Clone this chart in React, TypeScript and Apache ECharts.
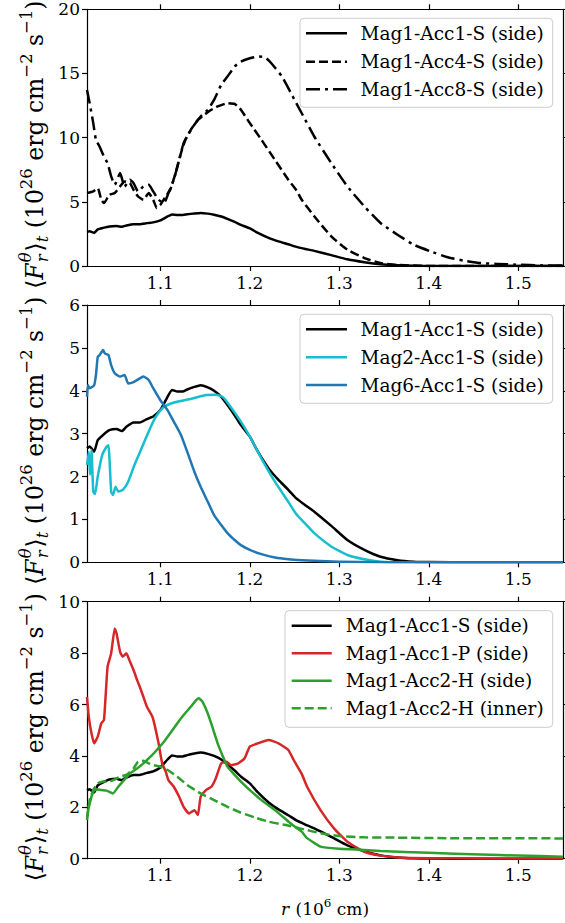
import React, { useEffect, useRef } from 'react';
import * as echarts from 'echarts';

const W = 565;
const H = 923;
const SERIF = 'DejaVu Serif';

// ---------- axes ----------
const X_MIN = 1.018;
const X_MAX = 1.55;
const X_TICKS = [1.1, 1.2, 1.3, 1.4, 1.5];
const Y_MAX = [20, 6, 10];
const Y_INTERVAL = [5, 1, 2];

// ---------- legend names ----------
const NAMES_1 = ['Mag1-Acc1-S (side)', 'Mag1-Acc4-S (side)', 'Mag1-Acc8-S (side)'];
const NAMES_2 = ['Mag1-Acc1-S (side)', 'Mag2-Acc1-S (side)', 'Mag6-Acc1-S (side)'];
const NAMES_3 = ['Mag1-Acc1-S (side)', 'Mag1-Acc1-P (side)', 'Mag1-Acc2-H (side)', 'Mag1-Acc2-H (inner)'];

// ---------- data: [r (1e6 cm), <F> (1e26 erg cm^-2 s^-1)] ----------
const MAG1_ACC1_S: number[][] = [
  [1.018, 2.66], [1.021, 2.7], [1.026, 2.58], [1.03, 2.85], [1.036, 2.97], [1.043, 3.08], [1.051, 3.11],
  [1.057, 3.06], [1.062, 3.16], [1.07, 3.26], [1.077, 3.26], [1.085, 3.34], [1.092, 3.4], [1.1, 3.55],
  [1.108, 3.86], [1.113, 4.02], [1.119, 3.98], [1.125, 3.98], [1.13, 4.03], [1.138, 4.09], [1.145, 4.13],
  [1.153, 4.08], [1.16, 4.0], [1.168, 3.86], [1.175, 3.67], [1.183, 3.43], [1.19, 3.2], [1.2, 2.93],
  [1.209, 2.58], [1.221, 2.19], [1.232, 1.92], [1.243, 1.69], [1.252, 1.49], [1.262, 1.33], [1.272, 1.18],
  [1.291, 0.85], [1.309, 0.52], [1.328, 0.29], [1.346, 0.13], [1.365, 0.05], [1.383, 0.015], [1.4, 0.005],
  [1.45, 0], [1.55, 0],
];
const MAG1_ACC4_S: number[][] = [
  [1.018, 5.68], [1.025, 5.81], [1.03, 6.07], [1.034, 5.16], [1.037, 4.9], [1.043, 5.55], [1.049, 5.68],
  [1.055, 6.2], [1.06, 6.59], [1.066, 6.46], [1.07, 5.94], [1.075, 5.42], [1.081, 5.16], [1.087, 5.68],
  [1.092, 5.16], [1.096, 4.51], [1.1, 4.77], [1.106, 5.42], [1.111, 5.94], [1.117, 7.24], [1.123, 8.79],
  [1.128, 9.83], [1.134, 10.61], [1.142, 11.39], [1.149, 11.78], [1.157, 12.17], [1.164, 12.43],
  [1.175, 12.69], [1.183, 12.63], [1.19, 12.17], [1.2, 11.13], [1.213, 9.83], [1.228, 8.27], [1.243, 6.72],
  [1.252, 5.9], [1.258, 5.16], [1.272, 3.87], [1.291, 2.31], [1.309, 1.27], [1.328, 0.62], [1.346, 0.23],
  [1.365, 0.08], [1.4, 0.0], [1.55, 0],
];
const MAG1_ACC8_S: number[][] = [
  [1.018, 13.72], [1.021, 12.68], [1.025, 11.13], [1.028, 9.83], [1.032, 9.31], [1.037, 8.53], [1.041, 8.02],
  [1.045, 6.98], [1.049, 6.33], [1.055, 7.24], [1.06, 6.2], [1.066, 6.72], [1.07, 6.46], [1.075, 5.81],
  [1.081, 6.2], [1.087, 6.33], [1.092, 5.81], [1.098, 5.16], [1.104, 4.9], [1.109, 5.68], [1.115, 6.72],
  [1.121, 8.27], [1.126, 9.57], [1.132, 10.35], [1.138, 11.0], [1.145, 11.65], [1.153, 12.17], [1.16, 12.94],
  [1.168, 14.11], [1.175, 14.76], [1.183, 15.54], [1.19, 15.93], [1.2, 16.19], [1.209, 16.32], [1.217, 16.26],
  [1.224, 15.8], [1.236, 14.76], [1.247, 13.33], [1.258, 11.9], [1.272, 10.09], [1.291, 8.02], [1.309, 6.2],
  [1.328, 4.64], [1.346, 3.35], [1.365, 2.44], [1.383, 1.66], [1.402, 1.14], [1.42, 0.7], [1.439, 0.42],
  [1.458, 0.23], [1.476, 0.16], [1.5, 0.1], [1.525, 0.05], [1.55, 0.03],
];
const MAG2_ACC1_S: number[][] = [
  [1.018, 2.27], [1.02, 2.58], [1.0215, 2.04], [1.023, 2.62], [1.025, 1.65], [1.027, 1.59], [1.03, 2.0],
  [1.035, 2.5], [1.04, 2.7], [1.042, 2.73], [1.045, 1.65], [1.047, 1.57], [1.05, 1.76], [1.053, 1.65],
  [1.058, 1.69], [1.064, 1.88], [1.071, 2.27], [1.079, 2.66], [1.087, 3.05], [1.094, 3.36], [1.102, 3.59],
  [1.109, 3.68], [1.12, 3.75], [1.136, 3.82], [1.151, 3.9], [1.162, 3.91], [1.17, 3.85], [1.177, 3.67],
  [1.19, 3.28], [1.2, 2.93], [1.213, 2.42], [1.228, 1.88], [1.243, 1.41], [1.252, 1.12], [1.262, 0.9],
  [1.272, 0.68], [1.291, 0.37], [1.309, 0.17], [1.328, 0.07], [1.346, 0.015], [1.37, 0], [1.55, 0],
];
const MAG6_ACC1_S: number[][] = [
  [1.018, 3.86], [1.019, 4.13], [1.021, 4.06], [1.026, 4.13], [1.028, 4.37], [1.03, 4.79], [1.032, 4.83],
  [1.036, 4.95], [1.038, 4.87], [1.042, 4.83], [1.045, 4.6], [1.049, 4.41], [1.055, 4.33], [1.06, 4.37],
  [1.064, 4.17], [1.07, 4.2], [1.077, 4.29], [1.081, 4.33], [1.087, 4.25], [1.092, 4.06], [1.1, 3.78],
  [1.108, 3.55], [1.115, 3.28], [1.123, 2.97], [1.13, 2.58], [1.138, 2.11], [1.145, 1.76], [1.153, 1.41],
  [1.16, 1.1], [1.168, 0.87], [1.175, 0.68], [1.183, 0.52], [1.19, 0.4], [1.2, 0.29], [1.213, 0.19],
  [1.228, 0.11], [1.243, 0.07], [1.258, 0.05], [1.3, 0.015], [1.35, 0], [1.55, 0],
];
const MAG1_ACC1_P: number[][] = [
  [1.018, 6.3], [1.02, 5.52], [1.023, 4.88], [1.026, 4.49], [1.03, 4.75], [1.034, 5.27], [1.037, 5.4],
  [1.041, 7.47], [1.045, 7.99], [1.049, 8.96], [1.051, 8.77], [1.055, 8.05], [1.058, 7.86], [1.062, 7.99],
  [1.066, 7.67], [1.07, 7.34], [1.074, 6.95], [1.077, 6.69], [1.081, 6.3], [1.085, 5.91], [1.091, 5.53],
  [1.094, 5.14], [1.098, 4.49], [1.102, 3.71], [1.106, 3.39], [1.109, 3.06], [1.115, 2.8], [1.121, 2.41],
  [1.126, 2.02], [1.132, 1.76], [1.138, 1.89], [1.142, 1.7], [1.145, 2.41], [1.151, 2.67], [1.157, 2.8],
  [1.162, 3.13], [1.168, 3.71], [1.174, 3.77], [1.179, 3.64], [1.187, 3.71], [1.194, 3.9], [1.2, 4.36],
  [1.209, 4.49], [1.221, 4.62], [1.232, 4.49], [1.243, 4.23], [1.249, 3.84], [1.258, 3.3], [1.264, 2.8],
  [1.279, 1.89], [1.294, 1.18], [1.309, 0.66], [1.328, 0.27], [1.346, 0.12], [1.365, 0.05], [1.4, 0.02],
  [1.458, 0.01], [1.55, 0.01],
];
const MAG1_ACC2_H_SIDE: number[][] = [
  [1.018, 1.63], [1.021, 2.15], [1.025, 2.61], [1.028, 2.7], [1.034, 2.67], [1.04, 2.65], [1.047, 2.54],
  [1.053, 2.8], [1.058, 3.0], [1.066, 3.32], [1.074, 3.51], [1.081, 3.71], [1.089, 3.97], [1.096, 4.23],
  [1.104, 4.55], [1.111, 4.88], [1.119, 5.27], [1.126, 5.59], [1.134, 5.91], [1.14, 6.17], [1.143, 6.24],
  [1.147, 6.11], [1.153, 5.65], [1.158, 5.14], [1.164, 4.49], [1.17, 3.97], [1.175, 3.58], [1.183, 3.26],
  [1.19, 3.0], [1.2, 2.67], [1.213, 2.28], [1.228, 1.89], [1.243, 1.45], [1.252, 1.2], [1.258, 1.05],
  [1.264, 0.8], [1.279, 0.47], [1.3, 0.39], [1.328, 0.34], [1.346, 0.3], [1.4, 0.23], [1.458, 0.16],
  [1.5, 0.12], [1.55, 0.08],
];
const MAG1_ACC2_H_INNER: number[][] = [
  [1.018, 1.5], [1.021, 2.28], [1.025, 2.67], [1.03, 2.93], [1.036, 3.0], [1.043, 3.0], [1.055, 3.19],
  [1.062, 3.26], [1.07, 3.51], [1.075, 3.77], [1.081, 3.81], [1.087, 3.71], [1.092, 3.64], [1.1, 3.58],
  [1.108, 3.45], [1.119, 3.19], [1.13, 2.87], [1.145, 2.54], [1.16, 2.28], [1.175, 2.02], [1.19, 1.79],
  [1.206, 1.6], [1.221, 1.44], [1.24, 1.31], [1.256, 1.18], [1.279, 0.99], [1.3, 0.88], [1.328, 0.83],
  [1.365, 0.82], [1.42, 0.8], [1.55, 0.79],
];

// ---------- styles / layout (kept apart from data) ----------
const BLACK = '#000000';
const CYAN = '#17becf';
const BLUE = '#1f77b4';
const RED = '#d62728';
const GREEN = '#2ca02c';
const DASH = [9, 4];
const DASHDOT = [14, 5, 3, 5];

const PLOT_LEFT = 87;
const PLOT_WIDTH = 476;

type SeriesDef = { name: string; data: number[][]; color: string; dash: number[] | null };
type Panel = {
  top: number;
  height: number;
  series: SeriesDef[];
  legend: { x: number; y: number; w: number; h: number; rows: number[]; lx1: number; lx2: number; tx: number };
};

const PANELS: Panel[] = [
  {
    top: 9.3,
    height: 256.7,
    series: [
      { name: NAMES_1[0], data: MAG1_ACC1_S, color: BLACK, dash: null },
      { name: NAMES_1[1], data: MAG1_ACC4_S, color: BLACK, dash: DASH },
      { name: NAMES_1[2], data: MAG1_ACC8_S, color: BLACK, dash: DASHDOT },
    ],
    legend: { x: 300, y: 18.3, w: 252.7, h: 89, rows: [33.3, 61.7, 89.3], lx1: 306, lx2: 347, tx: 360.5 },
  },
  {
    top: 305,
    height: 257.3,
    series: [
      { name: NAMES_2[0], data: MAG1_ACC1_S, color: BLACK, dash: null },
      { name: NAMES_2[1], data: MAG2_ACC1_S, color: CYAN, dash: null },
      { name: NAMES_2[2], data: MAG6_ACC1_S, color: BLUE, dash: null },
    ],
    legend: { x: 300, y: 314.3, w: 252.7, h: 89, rows: [329.3, 357.3, 385], lx1: 306, lx2: 347, tx: 360.5 },
  },
  {
    top: 601.7,
    height: 257,
    series: [
      { name: NAMES_3[0], data: MAG1_ACC1_S, color: BLACK, dash: null },
      { name: NAMES_3[1], data: MAG1_ACC1_P, color: RED, dash: null },
      { name: NAMES_3[2], data: MAG1_ACC2_H_SIDE, color: GREEN, dash: null },
      { name: NAMES_3[3], data: MAG1_ACC2_H_INNER, color: GREEN, dash: DASH },
    ],
    legend: { x: 285, y: 610.7, w: 267.7, h: 116.6, rows: [625.7, 653.3, 680.7, 708.3], lx1: 291.7, lx2: 331.7, tx: 345.7 },
  },
];

// ---------- math-like label layout ----------
let measureCtx: CanvasRenderingContext2D | null = null;
function textWidth(t: string, size: number, italic: boolean): number {
  if (!measureCtx) measureCtx = document.createElement('canvas').getContext('2d');
  if (!measureCtx) return t.length * size * 0.6;
  measureCtx.font = `${italic ? 'italic ' : ''}${size}px DejaVu Serif`;
  return measureCtx.measureText(t).width;
}

type Piece = { t?: string; k?: string; stack?: { t: string; k: string }[]; gap?: number };
function kindStyle(k: string, S: number) {
  const small = S * 0.7;
  switch (k) {
    case 'i': return { size: S, italic: true, dy: 0 };
    case 'sup': return { size: small, italic: false, dy: -0.48 * S };
    case 'supi': return { size: small, italic: true, dy: -0.5 * S };
    case 'sub': return { size: small, italic: false, dy: 0.2 * S };
    case 'subi': return { size: small, italic: true, dy: 0.22 * S };
    default: return { size: S, italic: false, dy: 0 };
  }
}

function mathLabel(pieces: Piece[], S: number, x: number, y: number, rotation: number) {
  const items: { t: string; x: number; dy: number; size: number; italic: boolean }[] = [];
  let cur = 0;
  pieces.forEach((p) => {
    cur += p.gap || 0;
    if (p.stack) {
      let mw = 0;
      p.stack.forEach((s) => {
        const st = kindStyle(s.k, S);
        const w = textWidth(s.t, st.size, st.italic);
        items.push({ t: s.t, x: cur, dy: st.dy, size: st.size, italic: st.italic });
        mw = Math.max(mw, w);
      });
      cur += mw;
    } else if (p.t && p.k) {
      const st = kindStyle(p.k, S);
      items.push({ t: p.t, x: cur, dy: st.dy, size: st.size, italic: st.italic });
      cur += textWidth(p.t, st.size, st.italic);
    }
  });
  const half = cur / 2;
  return {
    type: 'group',
    x,
    y,
    rotation,
    silent: true,
    z: 50,
    children: items.map((it) => ({
      type: 'text',
      x: it.x - half,
      y: it.dy - 0.346 * it.size,
      style: {
        text: it.t,
        fontSize: it.size,
        fontFamily: SERIF,
        fontStyle: it.italic ? 'italic' : 'normal',
        fill: '#000',
        align: 'left',
        verticalAlign: 'middle',
      },
    })),
  };
}

const Y_LABEL: Piece[] = [
  { t: '\u27E8', k: 'n' },
  { t: 'F', k: 'i' },
  { stack: [{ t: '\u03B8', k: 'supi' }, { t: 'r', k: 'subi' }], gap: 1 },
  { t: '\u27E9', k: 'n', gap: 1 },
  { t: 't', k: 'subi' },
  { t: ' (10', k: 'n' },
  { t: '26', k: 'sup' },
  { t: ' erg cm', k: 'n' },
  { t: '\u22122', k: 'sup' },
  { t: ' s', k: 'n' },
  { t: '\u22121', k: 'sup' },
  { t: ')', k: 'n' },
];
const X_LABEL: Piece[] = [
  { t: 'r', k: 'i' },
  { t: ' (10', k: 'n', gap: 1 },
  { t: '6', k: 'sup' },
  { t: ' cm)', k: 'n' },
];

function buildOption() {
  const grid: any[] = [];
  const xAxis: any[] = [];
  const yAxis: any[] = [];
  const series: any[] = [];
  const graphic: any[] = [];
  const frame = { color: '#000', width: 1.2 };
  const tickRich = { t: { fontFamily: SERIF, fontSize: 17, color: '#000' } };

  PANELS.forEach((p, i) => {
    grid.push({ left: PLOT_LEFT, top: p.top, width: PLOT_WIDTH, height: p.height, containLabel: false });
    const xc = {
      type: 'value',
      gridIndex: i,
      min: X_MIN,
      max: X_MAX,
      splitLine: { show: false },
      axisLine: { show: true, onZero: false, lineStyle: frame },
      axisTick: { show: true, inside: false, length: 5, customValues: X_TICKS, lineStyle: frame },
    };
    xAxis.push({
      ...xc,
      position: 'bottom',
      axisLabel: {
        show: true,
        customValues: X_TICKS,
        formatter: (v: number) => `{t|${v.toFixed(1)}}`,
        rich: tickRich,
        fontFamily: SERIF,
        fontSize: 17,
        color: '#000',
        margin: 8,
      },
    });
    xAxis.push({ ...xc, position: 'top', axisLabel: { show: false } });
    const yc = {
      type: 'value',
      gridIndex: i,
      min: 0,
      max: Y_MAX[i],
      interval: Y_INTERVAL[i],
      splitLine: { show: false },
      axisLine: { show: true, onZero: false, lineStyle: frame },
      axisTick: { show: true, inside: false, length: 5, lineStyle: frame },
    };
    yAxis.push({
      ...yc,
      position: 'left',
      axisLabel: {
        show: true,
        formatter: (v: number) => `{t|${v}}`,
        rich: tickRich,
        fontFamily: SERIF,
        fontSize: 17,
        color: '#000',
        margin: 7,
      },
    });
    yAxis.push({ ...yc, position: 'right', axisLabel: { show: false } });

    p.series.forEach((s, k) => {
      series.push({
        type: 'line',
        name: s.name + ' #' + i,
        xAxisIndex: 2 * i,
        yAxisIndex: 2 * i,
        data: s.data,
        symbol: 'none',
        showSymbol: false,
        smooth: 0.15,
        clip: true,
        silent: true,
        z: 2 + k,
        lineStyle: { color: s.color, width: 2.5, type: s.dash ? s.dash : 'solid', cap: 'butt', join: 'round' },
        itemStyle: { color: s.color },
      });
    });

    // legend box
    const L = p.legend;
    const children: any[] = [
      {
        type: 'rect',
        shape: { x: L.x, y: L.y, width: L.w, height: L.h, r: 4 },
        style: { fill: 'rgba(255,255,255,0.8)', stroke: '#cccccc', lineWidth: 1 },
      },
    ];
    p.series.forEach((s, k) => {
      children.push({
        type: 'line',
        shape: { x1: L.lx1, y1: L.rows[k], x2: L.lx2, y2: L.rows[k] },
        style: { stroke: s.color, lineWidth: 2.5, lineDash: s.dash ? s.dash : null, lineCap: 'butt' },
      });
      children.push({
        type: 'text',
        x: L.tx,
        y: L.rows[k],
        style: {
          text: s.name,
          fontSize: 18.5,
          fontFamily: SERIF,
          fill: '#000',
          align: 'left',
          verticalAlign: 'middle',
        },
      });
    });
    graphic.push({ type: 'group', z: 100, silent: true, children });

    // y label
    graphic.push(mathLabel(Y_LABEL, 23.5, 43, p.top + p.height / 2 + 7, Math.PI / 2));
  });

  graphic.push(mathLabel(X_LABEL, 17, PLOT_LEFT + PLOT_WIDTH / 2, 915, 0));

  return {
    animation: false,
    backgroundColor: '#ffffff',
    textStyle: { fontFamily: SERIF },
    grid,
    xAxis,
    yAxis,
    series,
    graphic,
  };
}

export default function App() {
  const ref = useRef<HTMLDivElement>(null);
  useEffect(() => {
    if (!ref.current) return;
    const chart = echarts.init(ref.current, null, { renderer: 'svg', width: W, height: H });
    chart.setOption(buildOption() as any);
    let alive = true;
    const timer = window.setTimeout(() => {
      if (!alive) return;
      measureCtx = null;
      chart.setOption(buildOption() as any, true);
    }, 150);
    return () => {
      alive = false;
      window.clearTimeout(timer);
      chart.dispose();
    };
  }, []);
  return (
    <div style={{ position: 'absolute', left: 0, top: 0, width: W, height: H }}>
      <span
        aria-hidden="true"
        style={{ position: 'absolute', left: 0, top: 0, fontFamily: 'DejaVu Serif', fontSize: 17, color: 'transparent' }}
      >
        {'\u00a0'}
        <i>{'\u00a0'}</i>
      </span>
      <div
        ref={ref}
        style={{ position: 'absolute', left: 0, top: 0, width: W, height: H, background: '#fff' }}
      />
    </div>
  );
}
